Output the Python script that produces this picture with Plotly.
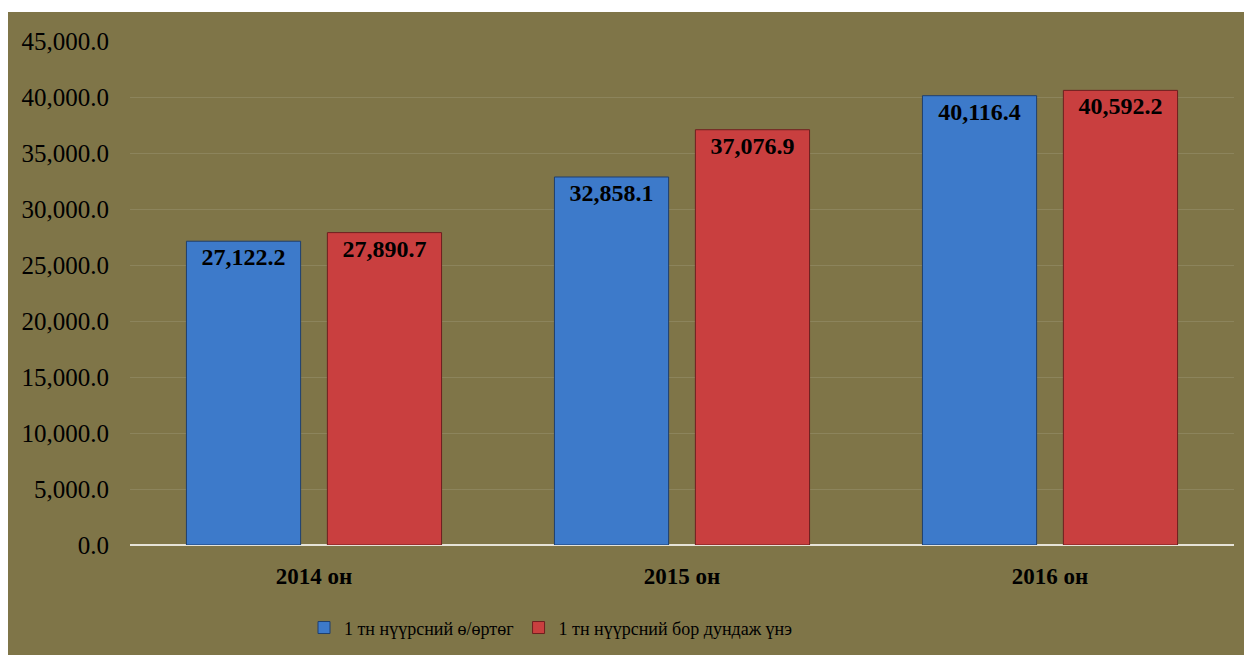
import plotly.graph_objects as go

categories = ["2014 он", "2015 он", "2016 он"]
series1_name = "1 тн нүүрсний ө/өртөг"
series1 = [27122.2, 32858.1, 40116.4]
series2_name = "1 тн нүүрсний бор дундаж үнэ"
series2 = [27890.7, 37076.9, 40592.2]
tick_vals = [0, 5000, 10000, 15000, 20000, 25000, 30000, 35000, 40000, 45000]

bg = "#7F7548"
font_family = "Liberation Serif, Times New Roman, serif"
label_font = dict(family=font_family, size=24, color="black", weight="bold")

fig = go.Figure()
fig.add_trace(go.Bar(
    x=categories, y=series1, name=series1_name,
    marker=dict(color="#3D7ACA", line=dict(color="#1F3F6E", width=1)),
    text=[f"{v:,.1f}" for v in series1], textposition="inside",
    insidetextanchor="end", textangle=0, textfont=label_font,
))
fig.add_trace(go.Bar(
    x=categories, y=series2, name=series2_name,
    marker=dict(color="#C93F3F", line=dict(color="#6E1F1F", width=1)),
    text=[f"{v:,.1f}" for v in series2], textposition="inside",
    insidetextanchor="end", textangle=0, textfont=label_font,
))

fig.update_layout(
    width=1244, height=647,
    margin=dict(l=122, r=18, t=33, b=110),
    paper_bgcolor=bg, plot_bgcolor=bg,
    barmode="group", bargap=0.234, bargroupgap=0.19,
    font=dict(family=font_family, size=19, color="black"),
    showlegend=True,
    legend=dict(orientation="h", xref="container", yref="container",
                x=0.4365, xanchor="center", y=0.042, yanchor="middle",
                font=dict(family=font_family, size=18, color="black"),
                itemwidth=30, traceorder="normal"),
    xaxis=dict(showgrid=False, showline=False, ticks="", ticklabelstandoff=15,
               tickfont=dict(family=font_family, size=23, color="black", weight="bold")),
    yaxis=dict(range=[0, 45000], tickvals=tick_vals, tickformat=",.1f",
               showgrid=True, gridcolor="#8C845C", gridwidth=1,
               zeroline=True, zerolinecolor="#E6E3D8", zerolinewidth=2,
               ticks="", ticklabelstandoff=20,
               tickfont=dict(family=font_family, size=25, color="black")),
    shapes=[
        dict(type="rect", xref="paper", yref="paper", x0=-0.2, x1=1.1, y0=1.0 + 29/504, y1=1.2,
             fillcolor="white", line=dict(width=0), layer="above"),
    ],
)

fig.write_html("out.html")
